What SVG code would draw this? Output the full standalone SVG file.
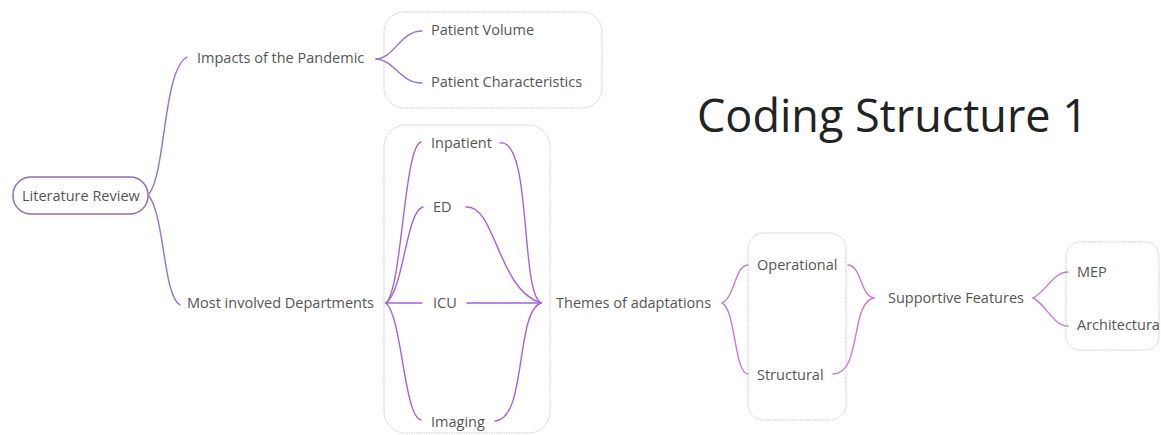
<svg xmlns="http://www.w3.org/2000/svg" width="1161" height="435" viewBox="0 0 1161 435">
  <style>
    .lbl { font-family: "Open Sans", "Liberation Sans", sans-serif; font-size: 14.5px; fill: #555; }
    .title { font-family: "Open Sans", "Liberation Sans", sans-serif; font-size: 45px; fill: #222; }
    .frame { fill: none; stroke: #c9c9c9; stroke-width: 1; stroke-dasharray: 1.5 1; }
    .link { fill: none; stroke-width: 1.4; stroke-linecap: round; }
    .violet { stroke: #9a72c6; }
    .purple { stroke: #a862d8; }
    .pink { stroke: #c97ad2; }
  </style>
  <rect width="1161" height="435" fill="#fff"/>

  <!-- grouping frames -->
  <g id="frames">
    <rect class="frame" x="384" y="12" width="218" height="96" rx="20"/>
    <rect class="frame" x="384" y="125" width="166" height="308" rx="22"/>
    <rect class="frame" x="748" y="233" width="98" height="187" rx="16"/>
    <rect class="frame" x="1066" y="242" width="93" height="108" rx="14"/>
  </g>

  <!-- connectors -->
  <g id="connectors">
    <path class="link violet" d="M149,194 C166,172 163,70 187,57"/>
    <path class="link violet" d="M149,196 C165,218 163,295 180,305"/>
    <path class="link violet" d="M376,59 C395,58 400,31 422,31"/>
    <path class="link violet" d="M376,59 C395,60 400,83 422,83"/>

    <path class="link purple" d="M386,303 C402,290 404,146 421,142"/>
    <path class="link purple" d="M386,303 C404,290 406,211 423,207"/>
    <path class="link purple" d="M386,303 L422,303"/>
    <path class="link purple" d="M386,303 C402,316 404,417 421,420"/>

    <path class="link purple" d="M500,143 C532,138 520,292 541,303"/>
    <path class="link purple" d="M466,207 C495,204 498,290 541,303"/>
    <path class="link purple" d="M467,303 L541,303"/>
    <path class="link purple" d="M495,421 C527,420 515,312 541,303"/>

    <path class="link pink" d="M722,303 C736,296 734,266 748,265"/>
    <path class="link pink" d="M722,303 C736,310 734,373 748,374"/>
    <path class="link pink" d="M848,265 C862,266 860,296 874,298"/>
    <path class="link pink" d="M833,374 C862,374 850,302 874,298"/>

    <path class="link pink" d="M1033,298 C1046,292 1053,272 1068,272"/>
    <path class="link pink" d="M1033,298 C1046,304 1053,326 1068,326"/>
  </g>

  <g id="title">
    <text class="title" x="697" y="132">Coding Structure 1</text>
  </g>

  <g id="literature-review">
    <rect x="13" y="177" width="135" height="37" rx="18" fill="#fff" stroke="#8f6fb8" stroke-width="1.5"/>
    <text class="lbl" x="22" y="201">Literature Review</text>
  </g>
  <g id="impacts"><text class="lbl" x="197" y="63">Impacts of the Pandemic</text></g>
  <g id="departments"><text class="lbl" x="187" y="308">Most involved Departments</text></g>
  <g id="patient-volume"><text class="lbl" x="431" y="35">Patient Volume</text></g>
  <g id="patient-characteristics"><text class="lbl" x="431" y="87">Patient Characteristics</text></g>
  <g id="inpatient"><text class="lbl" x="431" y="148">Inpatient</text></g>
  <g id="ed"><text class="lbl" x="433" y="212">ED</text></g>
  <g id="icu"><text class="lbl" x="433" y="308">ICU</text></g>
  <g id="imaging"><text class="lbl" x="431" y="427">Imaging</text></g>
  <g id="themes"><text class="lbl" x="556" y="308">Themes of adaptations</text></g>
  <g id="operational"><text class="lbl" x="757" y="270">Operational</text></g>
  <g id="structural"><text class="lbl" x="757" y="380">Structural</text></g>
  <g id="supportive"><text class="lbl" x="888" y="303">Supportive Features</text></g>
  <g id="mep"><text class="lbl" x="1077" y="277">MEP</text></g>
  <g id="architectural"><text class="lbl" x="1077" y="330">Architectura</text></g>
</svg>
